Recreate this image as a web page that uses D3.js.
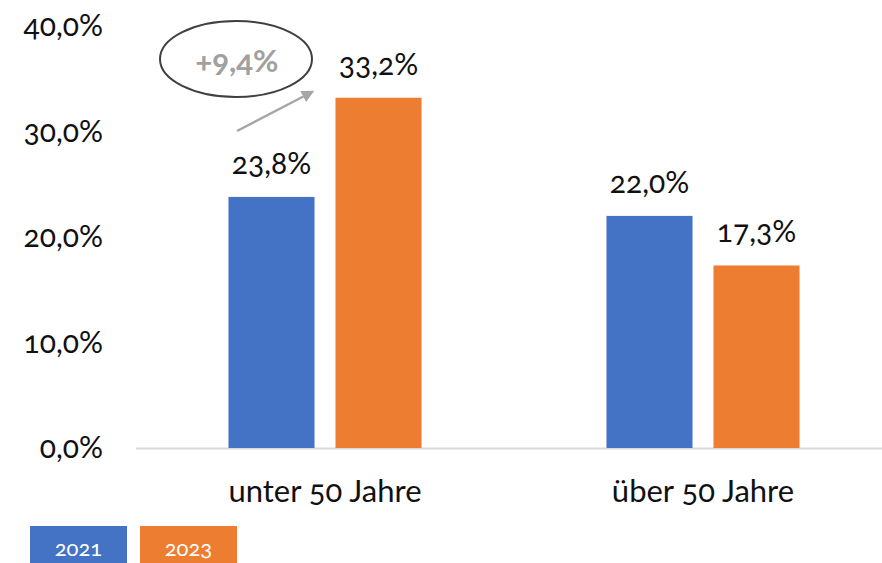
<!DOCTYPE html>
<html>
<head>
<meta charset="utf-8">
<script src="https://cdn.jsdelivr.net/npm/d3@7"></script>
<style>
  body { margin: 0; background: #fff; }
  svg { display: block; font-family: Lato, "Open Sans", sans-serif; font-variant-numeric: oldstyle-nums; }
</style>
</head>
<body>
<svg id="chart" width="882" height="563"></svg>
<script>
const categories = ['unter 50 Jahre', 'über 50 Jahre'];
const years = ['2021', '2023'];
const values2021 = [23.8, 22.0];
const values2023 = [33.2, 17.3];
const yTicks = [0, 10, 20, 30, 40];
const changeLabel = '+9,4%';

const colors = { '2021': '#4472C4', '2023': '#ED7D31' };
const fmt = v => d3.format('.1f')(v).replace('.', ',') + '%';

const svg = d3.select('#chart');

const x = d3.scaleBand().domain(categories).range([136, 892]);
const x1 = d3.scaleBand().domain(years).range([0, x.bandwidth()]).paddingInner(0.196).paddingOuter(0.864);
const y = d3.scaleLinear().domain([0, 40]).range([448, 26]);

const data = categories.map((c, i) => ({
  cat: c,
  vals: [{ year: '2021', v: values2021[i] }, { year: '2023', v: values2023[i] }]
}));

// y labels
svg.append('g').selectAll('text')
  .data(yTicks)
  .join('text')
  .attr('x', 103)
  .attr('y', d => y(d) + 10)
  .attr('text-anchor', 'end')
  .attr('font-size', 30)
  .attr('fill', '#111')
  .text(d => fmt(d));

// baseline
svg.append('line')
  .attr('x1', 136).attr('x2', 882)
  .attr('y1', y(0) + 0.5).attr('y2', y(0) + 0.5)
  .attr('stroke', '#d9d9d9').attr('stroke-width', 2);

const groups = svg.append('g').selectAll('g')
  .data(data)
  .join('g')
  .attr('transform', d => `translate(${x(d.cat)},0)`);

groups.selectAll('rect')
  .data(d => d.vals)
  .join('rect')
  .attr('x', d => x1(d.year))
  .attr('width', x1.bandwidth())
  .attr('y', d => y(d.v))
  .attr('height', d => y(0) - y(d.v))
  .attr('fill', d => colors[d.year]);

groups.selectAll('text.val')
  .data(d => d.vals)
  .join('text')
  .attr('class', 'val')
  .attr('x', d => x1(d.year) + x1.bandwidth() / 2)
  .attr('y', d => y(d.v) - 23)
  .attr('text-anchor', 'middle')
  .attr('font-size', 30)
  .attr('fill', '#111')
  .text(d => fmt(d.v));

// category labels
svg.append('g').selectAll('text')
  .data(categories)
  .join('text')
  .attr('x', d => x(d) + x.bandwidth() / 2)
  .attr('y', 502)
  .attr('text-anchor', 'middle')
  .attr('font-size', 31)
  .attr('fill', '#111')
  .text(d => d);

// legend
const legend = svg.append('g').selectAll('g')
  .data(years)
  .join('g')
  .attr('transform', (d, i) => `translate(${30 + i * 110},526)`);
legend.append('rect')
  .attr('width', 97).attr('height', 40)
  .attr('fill', d => colors[d]);
legend.append('text')
  .attr('x', 48.5).attr('y', 30)
  .attr('text-anchor', 'middle')
  .attr('font-size', 22)
  .attr('fill', '#fff')
  .text(d => d);

// annotation
const ann = svg.append('g');
ann.append('ellipse')
  .attr('cx', 236).attr('cy', 59).attr('rx', 76).attr('ry', 38)
  .attr('fill', 'none').attr('stroke', '#404040').attr('stroke-width', 2);
ann.append('text')
  .attr('x', 237).attr('y', 72)
  .attr('text-anchor', 'middle')
  .attr('font-size', 31).attr('font-weight', 'bold')
  .attr('fill', '#a0a0a0')
  .text(changeLabel);

svg.append('defs').append('marker')
  .attr('id', 'arr')
  .attr('viewBox', '0 0 10 10')
  .attr('refX', 8).attr('refY', 5)
  .attr('markerWidth', 5).attr('markerHeight', 5)
  .attr('orient', 'auto')
  .append('path')
  .attr('d', 'M0,0 L10,5 L0,10 Z')
  .attr('fill', '#a6a6a6');

ann.append('line')
  .attr('x1', 237).attr('y1', 131)
  .attr('x2', 312).attr('y2', 92)
  .attr('stroke', '#a6a6a6').attr('stroke-width', 2.5)
  .attr('marker-end', 'url(#arr)');
</script>
</body>
</html>
